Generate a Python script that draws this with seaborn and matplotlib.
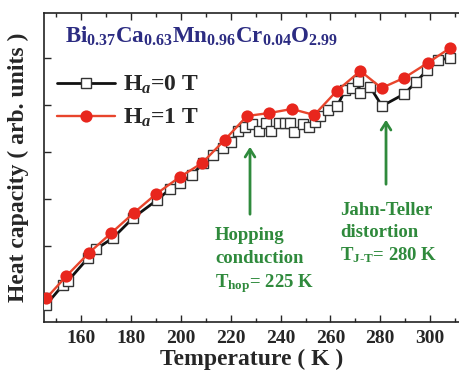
import matplotlib
matplotlib.use("Agg")
import matplotlib.pyplot as plt
import seaborn as sns
import pandas as pd

# ---- data ----
temp_1T = [146, 154, 163, 172, 181, 190, 199.5, 208.5, 217.5, 226.5, 235.5, 244.5,
           253.5, 262.5, 272, 280.5, 289.5, 299, 308]
cp_1T = [2.4, 4.6, 6.9, 8.9, 10.9, 12.8, 14.5, 15.9, 18.2, 20.6, 20.9, 21.3,
         20.7, 23.1, 25.1, 23.4, 24.4, 25.9, 27.4]

temp_0T = [145.8, 152.6, 154.6, 162.7, 165.9, 172.7, 180.7, 190.4, 195.6, 199.6,
           204.4, 208.9, 212.9, 216.9, 220.1, 222.9, 225.7, 228.5, 231.3, 234.2,
           236.2, 239.4, 241.8, 243.8, 245.4, 249.0, 251.4, 253.8, 255.8, 259.1,
           262.7, 265.9, 268.7, 271.1, 271.9, 275.9, 280.7, 289.6, 294.4, 298.8,
           303.2, 308.1]
cp_0T = [1.7, 3.7, 4.1, 6.4, 7.3, 8.4, 10.4, 12.2, 13.3, 13.9,
         14.7, 15.9, 16.7, 17.4, 18.0, 19.1, 19.5, 19.8, 19.1, 19.9,
         19.1, 19.9, 19.9, 19.9, 19.0, 19.8, 19.5, 20.0, 20.6, 21.2,
         21.6, 23.2, 23.4, 24.1, 22.9, 23.5, 21.6, 22.8, 24.0, 25.2,
         26.2, 26.4]

x_ticks = [160, 180, 200, 220, 240, 260, 280, 300]
x_minor = [150, 170, 190, 210, 230, 250, 270, 290, 310]
y_ticks = [2.9, 7.6, 12.3, 17.0, 21.7, 26.4]

label_0T = r"H$_{\mathit{a}}$=0 T"
label_1T = r"H$_{\mathit{a}}$=1 T"
title_txt = r"Bi$_{0.37}$Ca$_{0.63}$Mn$_{0.96}$Cr$_{0.04}$O$_{2.99}$"
hop_lines = ["Hopping", "conduction", r"T$_{\mathrm{hop}}$= 225 K"]
jt_lines = ["Jahn-Teller", "distortion", r"T$_{\mathrm{J\text{-}T}}$= 280 K"]
hop_T, jt_T = 227.7, 282.3

# ---- style ----
sns.set_style("ticks")
plt.rcParams["font.family"] = ["Liberation Serif", "DejaVu Serif"]
plt.rcParams["font.weight"] = "bold"
plt.rcParams["mathtext.fontset"] = "custom"
plt.rcParams["mathtext.rm"] = "Liberation Serif:bold"
plt.rcParams["mathtext.bf"] = "Liberation Serif:bold"
plt.rcParams["mathtext.it"] = "Liberation Serif:bold:italic"
plt.rcParams["mathtext.default"] = "regular"

RED = "#e8261d"
RED_LINE = "#e8452c"
GREEN = "#2f8a3c"
NAVY = "#2c2c82"

fig = plt.figure(figsize=(4.59, 3.70), dpi=100)
ax = fig.add_axes([44 / 459, 48 / 370, 416 / 459, 309 / 370])

df0 = pd.DataFrame({"T": temp_0T, "C": cp_0T})
df1 = pd.DataFrame({"T": temp_1T, "C": cp_1T})

sns.lineplot(data=df0, x="T", y="C", ax=ax, color="#111111", lw=2.0,
             marker="s", markersize=7.5, markerfacecolor="white",
             markeredgecolor="#333333", markeredgewidth=1.0, label=label_0T,
             zorder=3)
sns.lineplot(data=df1, x="T", y="C", ax=ax, color=RED_LINE, lw=1.7,
             marker="o", markersize=8.8, markerfacecolor=RED,
             markeredgecolor=RED, markeredgewidth=0, label=label_1T, zorder=4)

ax.set_xlim(145, 312)
ax.set_ylim(0, 30.9)
ax.set_xticks(x_ticks)
ax.set_xticks(x_minor, minor=True)
ax.set_yticks(y_ticks)
ax.set_yticklabels([])
ax.tick_params(axis="both", which="both", direction="in", top=True)
ax.tick_params(axis="x", which="major", length=5, width=1, labelsize=14, pad=6)
ax.tick_params(axis="x", which="minor", length=3, width=1)
ax.tick_params(axis="y", which="major", length=5, width=1)
for lab in ax.get_xticklabels():
    lab.set_fontweight("bold")
for s in ["left", "bottom", "top"]:
    ax.spines[s].set_linewidth(1.2)
    ax.spines[s].set_color("#222222")
ax.spines["right"].set_visible(False)

ax.set_xlabel("Temperature ( K )", fontsize=17, fontweight="bold", labelpad=1)
ax.set_ylabel("Heat capacity ( arb. units )", fontsize=17, fontweight="bold",
              labelpad=7)

# title formula
ax.text(153.4, 27.9, title_txt, fontsize=16.5, color=NAVY, fontweight="bold",
        va="baseline", ha="left")

# legend
leg = ax.legend(loc="upper left", bbox_to_anchor=(57 / 459, 296 / 370),
                bbox_transform=fig.transFigure, frameon=False, fontsize=17,
                handlelength=2.45, handletextpad=0.35, labelspacing=0.45,
                borderpad=0, borderaxespad=0)
for t in leg.get_texts():
    t.set_fontweight("bold")

# arrows
ax.annotate("", xy=(hop_T, 17.8), xytext=(hop_T, 10.5),
            arrowprops=dict(arrowstyle="->,head_length=0.55,head_width=0.35",
                            color=GREEN, lw=2))
ax.annotate("", xy=(jt_T, 20.5), xytext=(jt_T, 13.5),
            arrowprops=dict(arrowstyle="->,head_length=0.55,head_width=0.35",
                            color=GREEN, lw=2))

for txt, yv in zip(hop_lines, [8.2, 5.9, 3.5]):
    ax.text(213.7, yv, txt, fontsize=13.5, color=GREEN, fontweight="bold",
            va="baseline", ha="left")
for txt, yv in zip(jt_lines, [10.7, 8.5, 6.2]):
    ax.text(263.9, yv, txt, fontsize=13.5, color=GREEN, fontweight="bold",
            va="baseline", ha="left")

fig.savefig("out.png", dpi=100)
